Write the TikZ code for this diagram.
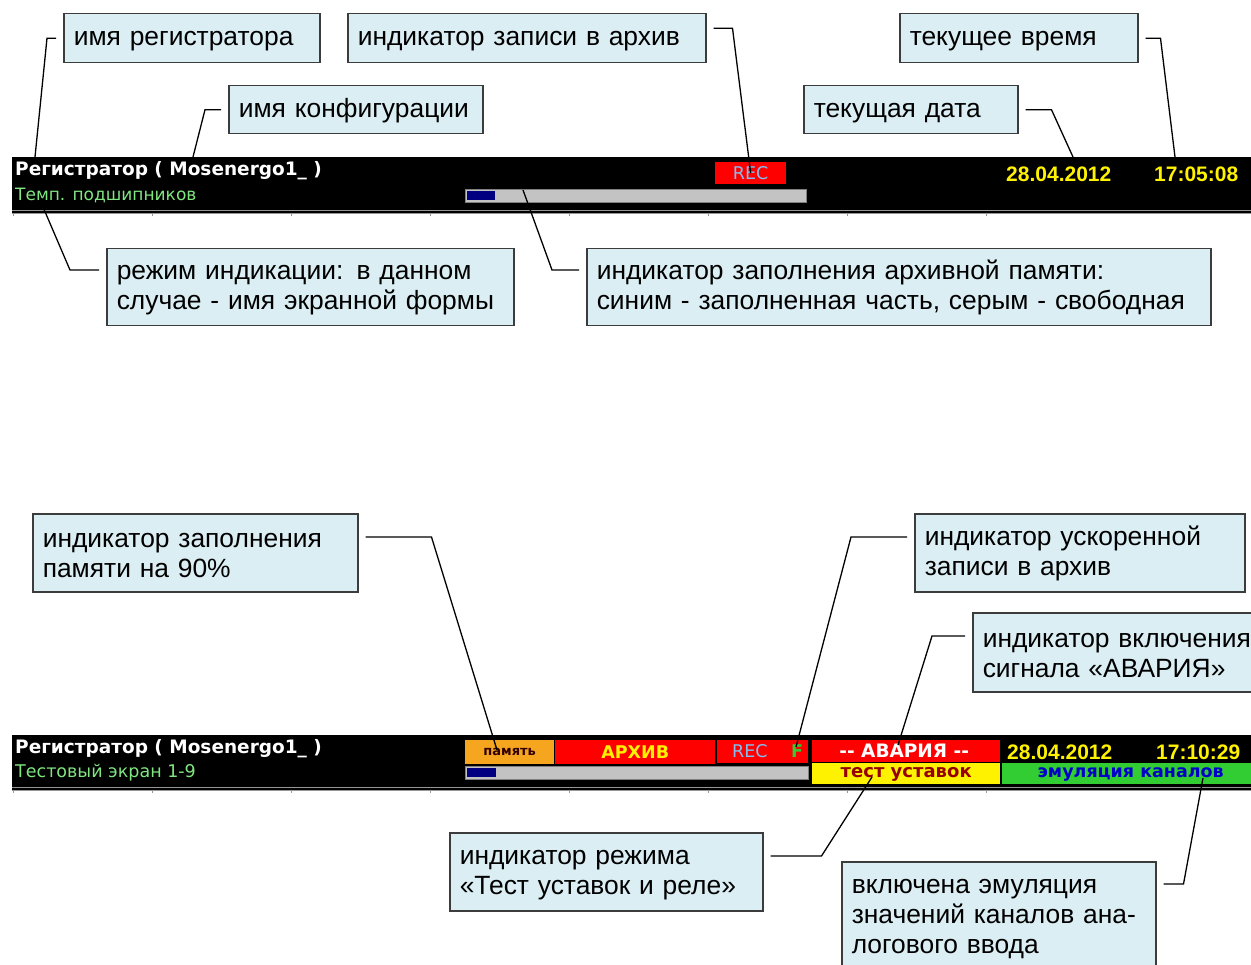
\documentclass[tikz,border=0pt]{standalone}
\usepackage{fontspec}
\setmainfont{Liberation Sans}
\newfontfamily\lcdfont{DejaVu Sans}
\usepackage{tikz}

\definecolor{callfill}{RGB}{219,238,244}
\definecolor{callline}{RGB}{60,60,60}
\definecolor{lcdgreen}{RGB}{128,230,128}
\definecolor{lcdblue}{RGB}{130,190,240}
\definecolor{barblue}{RGB}{0,0,128}
\definecolor{bargray}{RGB}{195,195,195}
\definecolor{memorange}{RGB}{245,165,30}
\definecolor{emugreen}{RGB}{50,205,50}
\definecolor{emublue}{RGB}{0,0,200}
\definecolor{testred}{RGB}{150,0,0}
\definecolor{gridgray}{RGB}{150,150,150}

\begin{document}
\begin{tikzpicture}[x=1pt,y=-1pt]
    \tikzstyle{callout}=[draw=callline,fill=callfill,line width=1.5pt,anchor=north west,align=left,inner xsep=10pt,font=\fontsize{26.4}{30}\selectfont,execute at begin node={\rule{0pt}{20pt}}]
    \tikzstyle{pointer}=[draw,line width=1.3pt,shorten <=7pt]
    \tikzstyle{cell}=[anchor=north west,inner sep=0pt]
    \tikzstyle{lcd}=[anchor=west,inner sep=0pt,font=\lcdfont\fontsize{17.5}{17.5}\selectfont]
    \tikzstyle{lcdbold}=[anchor=west,inner sep=0pt,font=\lcdfont\bfseries\fontsize{17.5}{17.5}\selectfont]
    \tikzstyle{clock}=[anchor=west,inner sep=0pt,text=yellow,font=\bfseries\fontsize{21}{21}\selectfont]

    \clip (0,0) rectangle (1251,965);

    % upper screen line
    \fill[black] (12,157) rectangle (1251,214);
    \draw[gridgray,line width=1pt] (12,210.5) -- (1251,210.5) (12,213.5) -- (1251,213.5);
    \foreach \x in {13,152,...,1118}
        \draw[gridgray,line width=1pt] (\x,213.5) -- (\x,216);

    \node[lcdbold, text=white, font=\lcdfont\bfseries\fontsize{18.5}{18.5}\selectfont] (regA) at (15,171) {Регистратор ( Mosenergo1\_ )};
    \node[lcd, text=lcdgreen, font=\lcdfont\fontsize{17}{17}\selectfont] (formA) at (15,195) {Темп. подшипников};
    \node[cell, fill=red, minimum width=71, minimum height=22] (recA) at (715,162) {};
    \node[lcd, anchor=center, text=lcdblue] at (recA.center) {REC};
    \node[cell, fill=bargray, draw=gray, minimum width=341, minimum height=13] (barA) at (465,189) {};
    \fill[barblue] (467,191) rectangle (495,200);
    \node[clock] (dateA) at (1006,174) {28.04.2012};
    \node[clock] (timeA) at (1154,174) {17:05:08};

    % lower screen line
    \fill[black] (12,735) rectangle (1251,791);
    \draw[gridgray,line width=1pt] (12,787.5) -- (1251,787.5) (12,790.5) -- (1251,790.5);
    \foreach \x in {13,152,...,1118}
        \draw[gridgray,line width=1pt] (\x,790.5) -- (\x,793);

    \node[lcdbold, text=white, font=\lcdfont\bfseries\fontsize{18.5}{18.5}\selectfont] (regB) at (15,749) {Регистратор ( Mosenergo1\_ )};
    \node[lcd, text=lcdgreen] (formB) at (15,773) {Тестовый экран 1-9};
    \node[cell, fill=memorange, minimum width=89, minimum height=24] (memB) at (465,740) {};
    \node[lcdbold, anchor=center, text=black!80!red, font=\lcdfont\bfseries\fontsize{13}{13}\selectfont] at (memB.center) {память};
    \node[cell, fill=red, minimum width=160, minimum height=24] (archB) at (555,740) {};
    \node[lcdbold, anchor=center, text=yellow] at (archB.center) {АРХИВ};
    \node[cell, fill=red, minimum width=91, minimum height=23] (recB) at (717,740) {};
    \node[lcd, text=lcdblue] at (732,751) {REC};
    \node[lcdbold, text=emugreen] at (791,751) {F};
    \node[cell, fill=red, minimum width=188, minimum height=22] (alarmB) at (812,740) {};
    \node[lcdbold, anchor=center, text=white, font=\lcdfont\bfseries\fontsize{18.5}{18.5}\selectfont] at ([xshift=-2pt]alarmB.center) {-- АВАРИЯ --};
    \node[cell, fill=yellow, minimum width=188, minimum height=21] (testB) at (812,763) {};
    \node[lcdbold, anchor=center, text=testred, font=\lcdfont\bfseries\fontsize{18}{18}\selectfont] at ([yshift=-1pt]testB.center) {тест уставок};
    \node[cell, fill=emugreen, minimum width=249, minimum height=21] (emuB) at (1002,763) {};
    \node[lcdbold, anchor=center, text=emublue] at ([xshift=4pt,yshift=-1pt]emuB.center) {эмуляция каналов};
    \node[cell, fill=bargray, draw=gray, minimum width=343, minimum height=13] (barB) at (465,766) {};
    \fill[barblue] (467,768) rectangle (496,777);
    \node[clock] (dateB) at (1007,752) {28.04.2012};
    \node[clock] (timeB) at (1156,752) {17:10:29};

    % callouts
    \node[callout, text width=236, minimum height=49] (reg) at (63,13) {имя регистратора};
    \node[callout, text width=338, minimum height=49] (wrec) at (347,13) {индикатор записи в архив};
    \node[callout, text width=218, minimum height=49] (time) at (899,13) {текущее время};
    \node[callout, text width=234, minimum height=48] (conf) at (228,85) {имя конфигурации};
    \node[callout, text width=194, minimum height=48] (date) at (803,85) {текущая дата};
    \node[callout, text width=387, minimum height=77] (mode) at (106,248) {режим индикации: в данном\\случае - имя экранной формы};
    \node[callout, text width=604, minimum height=77] (fill) at (586,248) {индикатор заполнения архивной памяти:\\синим - заполненная часть, серым - свободная};
    \node[callout, text width=305, minimum height=78] (mem) at (32,513) {индикатор заполнения\\памяти на 90\%};
    \node[callout, text width=310, minimum height=78] (fast) at (914,513) {индикатор ускоренной\\записи в архив};
    \node[callout, text width=310, minimum height=79] (alarm) at (972,612) {индикатор включения\\сигнала «АВАРИЯ»};
    \node[callout, text width=293, minimum height=78] (test) at (449,832) {индикатор режима\\«Тест уставок и реле»};
    \node[callout, text width=294, minimum height=108] (emu) at (841,861) {включена эмуляция\\значений каналов ана-\\логового ввода};

    % pointer tips
    \coordinate (t1) at (35,157);
    \coordinate (t3) at (1175,157);
    \coordinate (t4) at (193,157);
    \coordinate (t5) at (1073,157);
    \coordinate (t6) at (40,200);
    \coordinate (t7) at (523,190);
    \coordinate (t8) at (497,750);
    \coordinate (t9) at (796,747);
    \coordinate (t10) at (898,745);
    \coordinate (t11) at (872,777);
    \coordinate (t12) at (1203,778);

    \path[pointer] (reg.west) -- ++(-16,0) -- (t1);
    \path[pointer] ([yshift=10pt]wrec.east) -- ++(26,0) -- (recA.center);
    \path[pointer] (time.east) -- ++(22,0) -- (t3);
    \path[pointer] (conf.west) -- ++(-23,0) -- (t4);
    \path[pointer] (date.east) -- ++(33,0) -- (t5);
    \path[pointer] ([yshift=-22pt]mode.north west) -- ++(-36,0) -- (t6);
    \path[pointer] ([yshift=-22pt]fill.north west) -- ++(-34,0) -- (t7);
    \path[pointer] ([yshift=-24pt]mem.north east) -- ++(73,0) -- (t8);
    \path[pointer] ([yshift=-24pt]fast.north west) -- ++(-63,0) -- (t9);
    \path[pointer] ([yshift=-24pt]alarm.north west) -- ++(-40,0) -- (t10);
    \path[pointer] ([yshift=-24pt]test.north east) -- ++(58,0) -- (t11);
    \path[pointer] ([yshift=-23pt]emu.north east) -- ++(27,0) -- (t12);
\end{tikzpicture}
\end{document}
